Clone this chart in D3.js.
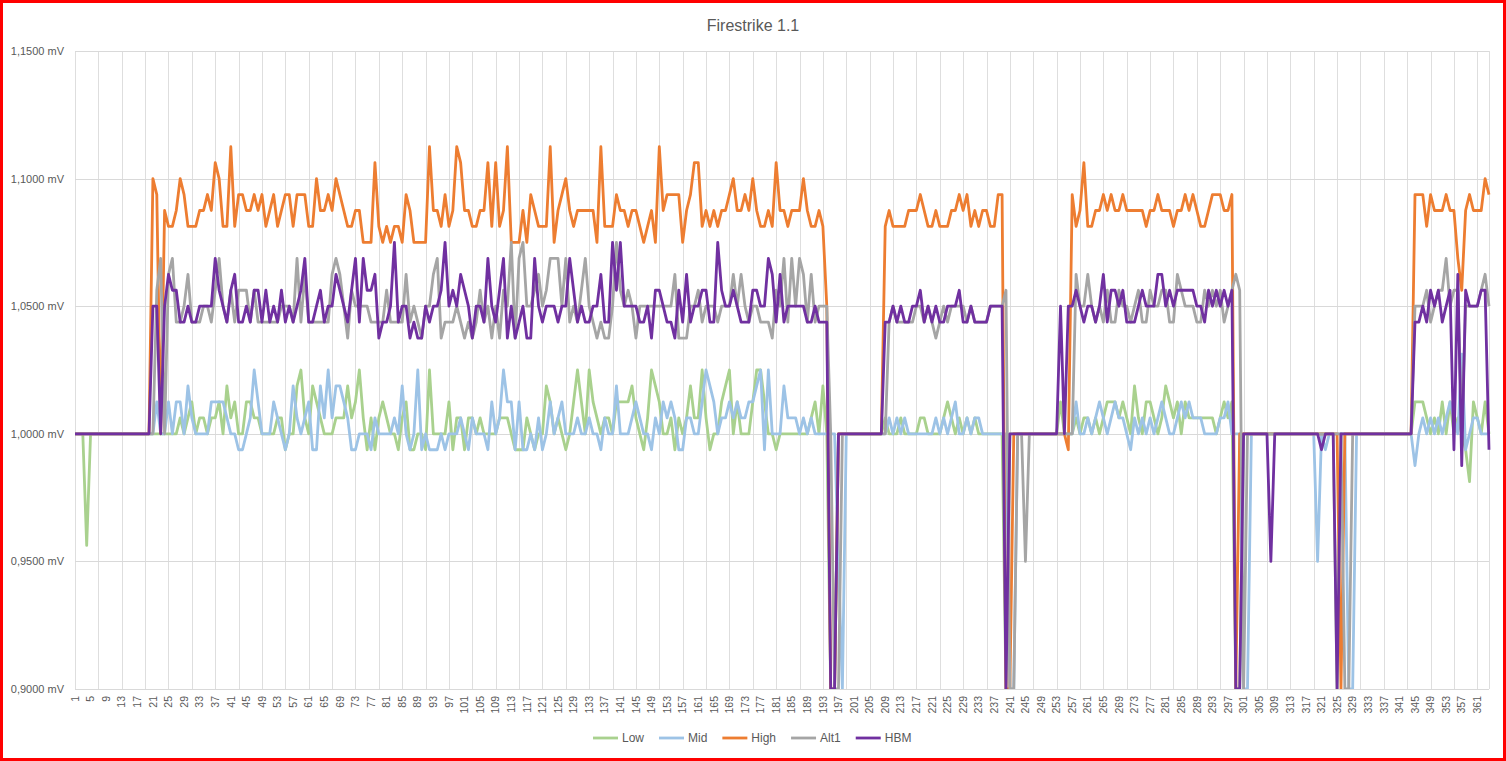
<!DOCTYPE html>
<html lang="en">
<head>
<meta charset="UTF-8">
<title>Firestrike 1.1</title>
<script src="https://cdn.jsdelivr.net/npm/d3@7"></script>
<style>
  body { margin: 0; background: #fff; }
  text { font-family: "Liberation Sans", Arial, sans-serif; fill: #595959; }
</style>
</head>
<body>
<svg id="chart" width="1506" height="761"></svg>
<script>
// sample numbers on the category axis
var samples = d3.range(1, 365);

// voltages, one per sample
var low = [
  1,1,1,0.95625,1,1,1,1,1,1, 1,1,1,1,1,1,1,1,1,1,
  1,1,1,1,1,1,1,1.00625,1,1.00625,1.0125,
  1,1.00625,1.00625,1,1.00625,1.00625,1.0125,1,1.01875,1.00625,1.0125,1,1,1.0125,1.0125,1.00625,1.00625,1,1,1,1,1.00625,1.00625,0.99375,1,1,1.01875,1.025,1.00625,1,1.01875,
  1.0125,1.00625,1,1,1,1.00625,1.00625,1.00625,1.01875,1.00625,1.0125,1.025,1.00625,0.99375,1.00625,0.99375,1.00625,1.0125,1.00625,1,1,0.99375,1.00625,1.0125,0.99375,0.99375,1,1,0.99375,1.025,1,
  1,1,1,1.0125,0.99375,1.00625,1.00625,0.99375,1.00625,1.00625,1,1.00625,1,1,1,1,1.00625,1.00625,1.00625,1,0.99375,0.99375,0.99375,1.00625,1,0.99375,1,1,1.01875,1.0125,1,
  1.00625,1,0.99375,1,1.0125,1.025,1.0125,1,1.025,1.0125,1.00625,1,1.00625,1.00625,1,1.0125,1.0125,1.0125,1.0125,1.01875,1.00625,1,0.99375,1.00625,1.025,1.01875,1.0125,1,1,1.00625,
  0.99375,1.00625,1,1.00625,1.01875,1.00625,1.00625,1.025,1.00625,0.99375,1,1,1.0125,1.01875,1.025,1,1.0125,1,1,1,1.0125,1.025,1.025,1.0125,1,1,0.99375,1,1,1,1,
  1,1,1,1,1.00625,1.0125,1,1.01875,1,0.9,0.9,1,
  1,1,1,1,1,1,1,1,1,1,1,
  1.00625,1,1,1,1.00625,1,1,1,
  1,1.00625,1.00625,1,1,1,1,1.00625,1.0125,1.00625,1,1.00625,1,1.00625,1,1.00625,1,1,1,1,1,1,1,
  0.9,
  1,1,1,1,1,1,1,1,1,1,1,1,1,
  1.0125,1,1,1,1.00625,1,1.00625,1.00625,1,1.00625,1,1.00625,1.0125,1.0125,1.0125,1.00625,1.0125,1.00625,1,1.01875,1.00625,1,1.0125,1.0125,1.00625,1,
  1.00625,1.01875,1.0125,1.00625,1.0125,1,1.0125,1.00625,1.00625,1.00625,1.00625,1.00625,1.00625,1.00625,1,1.00625,1.0125,1.00625,1.0125,
  0.9,0.9,
  1,1,1,1,1,1,1,1,1,1, 1,1,1,1,1,1,1,1,1,1, 1,1,1,1,
  0.9,
  1,1,1,1,1,1,1,1,1,1, 1,1,1,1,1,1,1,1,1,
  1.0125,1.0125,1.0125,1.00625,1,1.00625,1,1.0125,1,1.0125,1,1.00625,1,0.99375,0.98125,1.0125,1.00625,1,1.0125,1
];

var mid = [
  1,1,1,1,1,1,1,1,1,1, 1,1,1,1,1,1,1,1,1,1, 1,
  1.0125,1,1,1.0125,1,1.0125,1.0125,1,1.01875,1.00625,
  1,1,1,1,1.0125,1.0125,1.0125,1.0125,1.00625,1,1,0.99375,0.99375,1,1.00625,1.025,1.0125,1,1,1,1.0125,1.00625,1,0.99375,1,1.01875,1.00625,1,1.00625,1.0125,0.99375,
  0.99375,1.01875,1.00625,1.025,1.00625,1.01875,1.01875,1.0125,1.00625,0.99375,0.99375,1,1,1,0.99375,1.00625,1,1,1,1,1.00625,1,1.01875,1,0.99375,1,1.025,0.99375,1,0.99375,0.99375,
  0.99375,1,0.99375,1,1,1,1.00625,1,0.99375,1.00625,1,1,1,0.99375,1.0125,1,1.00625,1.025,1.0125,1.0125,0.99375,1.0125,0.99375,0.99375,1,0.99375,1.00625,0.99375,1,1.0125,1,
  1.00625,1.0125,1,1,1,1.00625,1,1,1.00625,1,1,0.99375,1.00625,1,1,1.01875,1,1,1,1.00625,1.0125,1.00625,1,1,0.99375,1.00625,1,1.0125,1.00625,1.0125,
  1.00625,0.99375,0.99375,1.00625,1.00625,1,1,1.0125,1.025,1.01875,1.0125,1,1.00625,1.00625,1.0125,1.00625,1.0125,1.00625,1.00625,1.0125,1.0125,1.01875,1.025,0.99375,1.025,1,1,1,1.01875,1.00625,1.00625,
  1.00625,1,1.00625,1,1.00625,1,1,1,1,1,1,0.95,0.9,1,
  1,1,1,1,1,1,1,1,1,1,
  1.00625,1,1.00625,1,1.00625,1,1,1,1,1,1,1,
  1.00625,1,1.00625,1,1.00625,1.0125,1,1,1.00625,1,1.00625,1.00625,
  1,1,1,1,1,1,
  1,0.9,0.9,1,
  1,1,1,1,1,1,1,1,1,1,1,1,1,1,
  1.0125,1,1,1.00625,1,1.00625,1.0125,1.00625,1,1.00625,1.0125,1.00625,1.00625,1,0.99375,1.00625,1,1.00625,1,1.00625,1,1.00625,
  1.0125,1.00625,1,1,1.00625,1.0125,1.00625,1.0125,1.00625,1.00625,1.00625,1,1,1,1,1.00625,1.00625,1.0125,1,1,1,
  0.9,0.9,1,
  1,1,1,1,1,1,1,1,1,1,1,1,1,1,1,1,
  0.95,1,0.99375,
  1,1,1,1,1,
  0.9,0.9,
  1,1,1,1,1,1,1,1,1,1,1,1,1,1,1,
  0.9875,1,1.00625,1,1.00625,1,1.00625,1,1.00625,1.0125,1.00625,1,1.03125,0.99375,1,1.00625,1.00625,1,1,1
];

var high = [
  1,1,1,1,1,1,1,1,1,1, 1,1,1,1,1,1,1,1,1,1,
  1.1,1.09375,1,1.0875,1.08125,1.08125,1.0875,1.1,1.09375,1.08125,1.08125,
  1.08125,1.0875,1.0875,1.09375,1.0875,1.10625,1.1,1.08125,1.08125,1.1125,1.08125,1.09375,1.09375,1.0875,1.0875,1.09375,1.0875,1.09375,1.08125,1.0875,1.09375,1.08125,1.0875,1.09375,1.09375,1.08125,1.09375,1.09375,1.09375,1.08125,1.08125,
  1.1,1.0875,1.0875,1.09375,1.0875,1.1,1.09375,1.0875,1.08125,1.08125,1.0875,1.0875,1.075,1.075,1.075,1.10625,1.08125,1.075,1.08125,1.075,1.08125,1.08125,1.075,1.09375,1.0875,1.075,1.075,1.075,1.075,1.1125,
  1.0875,1.0875,1.08125,1.09375,1.08125,1.0875,1.1125,1.10625,1.0875,1.0875,1.08125,1.08125,1.0875,1.0875,1.10625,1.08125,1.10625,1.08125,1.0875,1.1125,1.075,1.075,1.075,1.0875,1.075,1.09375,1.0875,1.08125,1.08125,1.08125,1.1125,
  1.075,1.0875,1.09375,1.1,1.0875,1.08125,1.0875,1.0875,1.0875,1.0875,1.0875,1.075,1.1125,1.08125,1.08125,1.08125,1.09375,1.0875,1.0875,1.08125,1.0875,1.0875,1.08125,1.075,1.08125,1.0875,1.075,1.1125,1.0875,1.09375,1.09375,
  1.09375,1.09375,1.075,1.0875,1.09375,1.10625,1.10625,1.08125,1.0875,1.08125,1.0875,1.08125,1.0875,1.0875,1.09375,1.1,1.0875,1.0875,1.09375,1.0875,1.1,1.0875,1.08125,1.08125,1.0875,1.08125,1.10625,1.0875,1.0875,1.08125,1.0875,
  1.0875,1.0875,1.1,1.0875,1.08125,1.08125,1.0875,1.08125,1.05,0.9,0.9,1,
  1,1,1,1,1,1,1,1,1,1,1,
  1.08125,1.0875,1.08125,1.08125,1.08125,1.08125,1.0875,1.0875,
  1.0875,1.09375,1.0875,1.08125,1.08125,1.0875,1.08125,1.08125,1.08125,1.0875,1.0875,1.09375,1.0875,1.09375,1.08125,1.0875,1.08125,1.0875,1.0875,1.08125,1.08125,1.09375,1.09375,0.9,0.9,1,
  1,1,1,1,1,1,1,1,1,1,1,1,1,
  0.99375,
  1.09375,1.08125,1.0875,1.10625,1.08125,1.08125,1.0875,1.0875,1.09375,1.0875,1.09375,1.0875,1.0875,1.09375,1.0875,1.0875,1.0875,1.0875,1.0875,1.08125,1.0875,1.0875,1.09375,
  1.0875,1.0875,1.0875,1.08125,1.0875,1.0875,1.09375,1.0875,1.09375,1.0875,1.08125,1.08125,1.0875,1.09375,1.09375,1.09375,1.0875,1.0875,1.09375,0.9,1,
  1,1,1,1,1,1,1,1,1,1, 1,1,1,1,1,1,1,1,1,1, 1,1,1,1,1,
  0.9,
  1,1,1,1,1,1,1,1,1,1, 1,1,1,1,1,1,1,1,
  1.09375,1.09375,1.09375,1.08125,1.09375,1.0875,1.0875,1.0875,1.09375,1.0875,1.0875,1.06875,1.05625,1.0875,1.09375,1.0875,1.0875,1.0875,1.1,1.09375
];

var alt1 = [
  1,1,1,1,1,1,1,1,1,1, 1,1,1,1,1,1,1,1,1,1, 1,
  1.05625,1.06875,1,1.0625,1.06875,1.04375,1.04375,1.05,1.0625,1.04375,
  1.04375,1.04375,1.05,1.05,1.04375,1.05625,1.06875,1.05,1.04375,1.05625,1.04375,1.05625,1.05625,1.05625,1.04375,1.05625,1.04375,1.04375,1.04375,1.04375,1.04375,1.04375,1.05,1.05,1.05,1.04375,1.06875,1.04375,1.0625,1.04375,1.04375,
  1.04375,1.04375,1.04375,1.04375,1.0625,1.06875,1.0625,1.05,1.0375,1.05625,1.05,1.05,1.05,1.05,1.04375,1.04375,1.04375,1.04375,1.05625,1.04375,1.04375,1.04375,1.04375,1.0625,1.04375,1.05,1.04375,1.0375,1.05,1.05,1.0625,
  1.06875,1.0375,1.04375,1.04375,1.04375,1.05,1.04375,1.0375,1.04375,1.0375,1.04375,1.05625,1.04375,1.05,1.0375,1.05,1.0375,1.05625,1.05,1.075,1.0375,1.06875,1.075,1.05,1.05,1.05625,1.0625,1.05,1.05625,1.06875,1.06875,
  1.06875,1.05,1.06875,1.04375,1.05,1.04375,1.05625,1.06875,1.05,1.04375,1.0375,1.04375,1.0375,1.0375,1.05,1.075,1.05625,1.05,1.05625,1.05,1.0375,1.05,1.05,1.05,1.05,1.05,1.05,1.05,1.05,1.05,
  1.0625,1.0375,1.0375,1.0375,1.05,1.05,1.05625,1.04375,1.05,1.05,1.05,1.04375,1.05,1.05,1.05,1.0625,1.05,1.0625,1.05,1.04375,1.05,1.05,1.04375,1.04375,1.04375,1.0375,1.05625,1.05,1.06875,1.04375,1.06875,
  1.05,1.06875,1.0625,1.04375,1.0625,1.04375,1.05,1.05,1.05,1,0.9,0.9,1,
  1,1,1,1,1,1,1,1,1,1,1,
  1.04375,1.05,1.04375,1.04375,1.04375,1.04375,1.04375,
  1.05,1.05,1.04375,1.05,1.04375,1.0375,1.04375,1.05,1.04375,1.05,1.05,1.05,1.05,1.04375,1.05,1.04375,1.04375,1.04375,1.04375,1.05,1.05,1.05,1.05,
  1.05625,0.9,0.9,1,1,0.95,1,
  1,1,1,1,1,1,1,1,1,1,1,
  1.0625,1.05,1.05,1.0625,1.05,1.04375,1.05,1.04375,1.05625,1.04375,1.04375,1.05625,1.05,1.05,1.04375,1.05,1.05625,1.04375,1.04375,1.05625,1.05,1.05,
  1.05625,1.05625,1.04375,1.04375,1.0625,1.05625,1.05,1.05,1.05,1.04375,1.04375,1.05625,1.05,1.05625,1.05,1.05625,1.04375,1.05,1.05625,1.0625,1.05625,0.9,1,
  1,1,1,1,1,1,1,1,1,1, 1,1,1,1,1,1,1,1,1,1, 1,1,1,1,
  0.9,0.9,
  1,1,1,1,1,1,1,1,1,1, 1,1,1,1,1,1,
  1.05,1.05,1.05,1.05625,1.04375,1.05,1.05625,1.05625,1.06875,1.05,1.05625,1.05625,1,1.05,1.05,1.05,1.05,1.05625,1.0625,1.05
];

var hbm = [
  1,1,1,1,1,1,1,1,1,1, 1,1,1,1,1,1,1,1,1,1,
  1.05,1.05,1,1.05,1.0625,1.05625,1.05625,1.04375,1.04375,1.05,1.04375,
  1.04375,1.05,1.05,1.05,1.05,1.06875,1.05625,1.05,1.04375,1.05625,1.0625,1.04375,1.04375,1.05,1.04375,1.05625,1.05625,1.04375,1.05625,1.04375,1.05,1.04375,1.05625,1.04375,1.05,1.04375,1.05,1.05625,1.06875,1.04375,1.04375,
  1.05,1.05625,1.04375,1.05,1.05,1.0625,1.05625,1.05,1.04375,1.05625,1.06875,1.04375,1.06875,1.05625,1.05625,1.0625,1.0375,1.04375,1.04375,1.05,1.075,1.04375,1.05,1.05,1.0375,1.04375,1.0375,1.0375,1.05,1.04375,1.05,
  1.05,1.05625,1.075,1.05,1.05625,1.05,1.0625,1.05625,1.05,1.0375,1.05,1.05,1.04375,1.06875,1.05,1.04375,1.05625,1.06875,1.0375,1.05,1.0375,1.04375,1.05,1.0375,1.0375,1.06875,1.05,1.04375,1.05,1.05,1.05,
  1.04375,1.05,1.05,1.06875,1.05625,1.04375,1.05,1.04375,1.04375,1.05,1.05,1.0625,1.04375,1.04375,1.075,1.05625,1.075,1.05,1.05,1.05,1.05,1.04375,1.04375,1.05,1.0375,1.05625,1.05625,1.05,1.04375,1.04375,
  1.0375,1.05625,1.04375,1.0625,1.04375,1.05,1.05,1.05625,1.05625,1.04375,1.04375,1.075,1.05625,1.05,1.05,1.05625,1.05,1.04375,1.04375,1.04375,1.05625,1.05625,1.05,1.05,1.06875,1.0625,1.04375,1.0625,1.04375,1.05,1.05,
  1.05,1.05,1.05,1.04375,1.04375,1.05,1.04375,1.04375,1.04375,0.9,0.9,1,
  1,1,1,1,1,1,1,1,1,1,1,
  1.04375,1.04375,1.05,1.04375,1.05,1.04375,1.04375,1.05,
  1.05,1.05625,1.04375,1.05,1.04375,1.05,1.04375,1.04375,1.05,1.05,1.05,1.05625,1.04375,1.04375,1.05,1.04375,1.04375,1.04375,1.04375,1.05,1.05,1.05,1.05,0.9,1,
  1,1,1,1,1,1,1,1,1,1,1,1,
  1.05,1,1.05,1.05,1.05625,1.05,1.04375,1.05,1.05,1.04375,1.05,1.0625,1.04375,1.05625,1.05625,1.05,1.05625,1.04375,1.04375,1.04375,1.05,1.05625,1.05,1.05,1.05,1.0625,
  1.0625,1.05,1.05625,1.05,1.05625,1.05625,1.05625,1.05625,1.05625,1.05,1.05,1.04375,1.05625,1.05,1.05625,1.05,1.05625,1.05,1.05625,0.9,0.9,1,
  1,1,1,1,1,1,
  0.95,
  1,1,1,1,1,1,1,1,1,1,1,1,
  0.99375,
  1,1,1,
  0.9,
  1,1,1,1,1,1,1,1,1,1, 1,1,1,1,1,1,1,1,1,
  1.04375,1.04375,1.05,1.04375,1.05625,1.05,1.05625,1.04375,1.05,1.05625,0.99375,1.0625,0.9875,1.05625,1.05,1.05,1.05,1.05625,1.05625,0.99375
];

var seriesNames = ["Low", "Mid", "High", "Alt1", "HBM"];
var seriesColors = ["#a9d18e", "#9dc3e6", "#ed7d31", "#a5a5a5", "#7030a0"];
var yTicks = [0.9, 0.95, 1.0, 1.05, 1.1, 1.15];

var allSeries = [low, mid, high, alt1, hbm];
allSeries.forEach(function(s, i) {
  if (s.length !== samples.length) throw new Error(seriesNames[i] + " has " + s.length + " values");
});

var svg = d3.select("#chart");
var plotLeft = 75, plotRight = 1489, plotTop = 51, plotBottom = 689;

var x = d3.scalePoint().domain(samples).range([plotLeft, plotRight]);
var y = d3.scaleLinear().domain([0.9, 1.15]).range([plotBottom, plotTop]);

// red frame round the picture
svg.append("rect")
    .attr("x", 1.5).attr("y", 1.5)
    .attr("width", 1503).attr("height", 758)
    .attr("fill", "none").attr("stroke", "#ff0000").attr("stroke-width", 3);

// title
svg.append("text")
    .attr("x", 753).attr("y", 31)
    .attr("text-anchor", "middle")
    .style("font-size", "16px")
    .text("Firestrike 1.1");

// vertical gridlines every 6 samples
var grid = svg.append("g").attr("class", "grid");
grid.selectAll("line.v")
  .data(samples.filter(function(d) { return (d - 1) % 6 === 0; }))
  .enter().append("line")
    .attr("class", "v")
    .attr("x1", function(d) { return Math.round(x(d)) + 0.5; })
    .attr("x2", function(d) { return Math.round(x(d)) + 0.5; })
    .attr("y1", plotTop).attr("y2", plotBottom)
    .attr("stroke", "#dedede").attr("stroke-width", 1);

grid.append("line")
    .attr("x1", plotRight + 0.5).attr("x2", plotRight + 0.5)
    .attr("y1", plotTop).attr("y2", plotBottom)
    .attr("stroke", "#dedede");

// horizontal gridlines
grid.selectAll("line.h")
  .data(yTicks)
  .enter().append("line")
    .attr("class", "h")
    .attr("x1", plotLeft).attr("x2", plotRight)
    .attr("y1", function(d) { return Math.round(y(d)) + 0.5; })
    .attr("y2", function(d) { return Math.round(y(d)) + 0.5; })
    .attr("stroke", "#d9d9d9").attr("stroke-width", 1);

// y axis labels
var fmt = d3.format(".4f");
svg.append("g").selectAll("text")
  .data(yTicks)
  .enter().append("text")
    .attr("x", 64)
    .attr("y", function(d) { return y(d) + 4; })
    .attr("text-anchor", "end")
    .style("font-size", "11px")
    .text(function(d) { return fmt(d).replace(".", ",") + " mV"; });

// x axis labels, every 4th sample, turned
svg.append("g").selectAll("text")
  .data(samples.filter(function(d) { return (d - 1) % 4 === 0; }))
  .enter().append("text")
    .attr("transform", function(d) { return "translate(" + x(d) + ",696) rotate(-90)"; })
    .attr("dy", "0.35em")
    .attr("text-anchor", "end")
    .style("font-size", "10.5px")
    .text(function(d) { return d; });

// lines
svg.append("clipPath").attr("id", "plotclip")
  .append("rect")
    .attr("x", plotLeft - 2).attr("y", plotTop - 2)
    .attr("width", plotRight - plotLeft + 4).attr("height", plotBottom - plotTop + 2);

var line = d3.line()
    .x(function(d, i) { return x(samples[i]); })
    .y(function(d) { return y(d); });

svg.append("g").attr("clip-path", "url(#plotclip)")
  .selectAll("path")
  .data(allSeries)
  .enter().append("path")
    .attr("d", line)
    .attr("fill", "none")
    .attr("stroke", function(d, i) { return seriesColors[i]; })
    .attr("stroke-width", 2.8)
    .attr("stroke-linejoin", "round");

// legend
var legend = svg.append("g");
var lx = 593;
seriesNames.forEach(function(name, i) {
  legend.append("line")
      .attr("x1", lx).attr("x2", lx + 25)
      .attr("y1", 738).attr("y2", 738)
      .attr("stroke", seriesColors[i]).attr("stroke-width", 2.8);
  var t = legend.append("text")
      .attr("x", lx + 29).attr("y", 742)
      .style("font-size", "12px")
      .text(name);
  lx += 29 + t.node().getComputedTextLength() + 15;
});
</script>
</body>
</html>
